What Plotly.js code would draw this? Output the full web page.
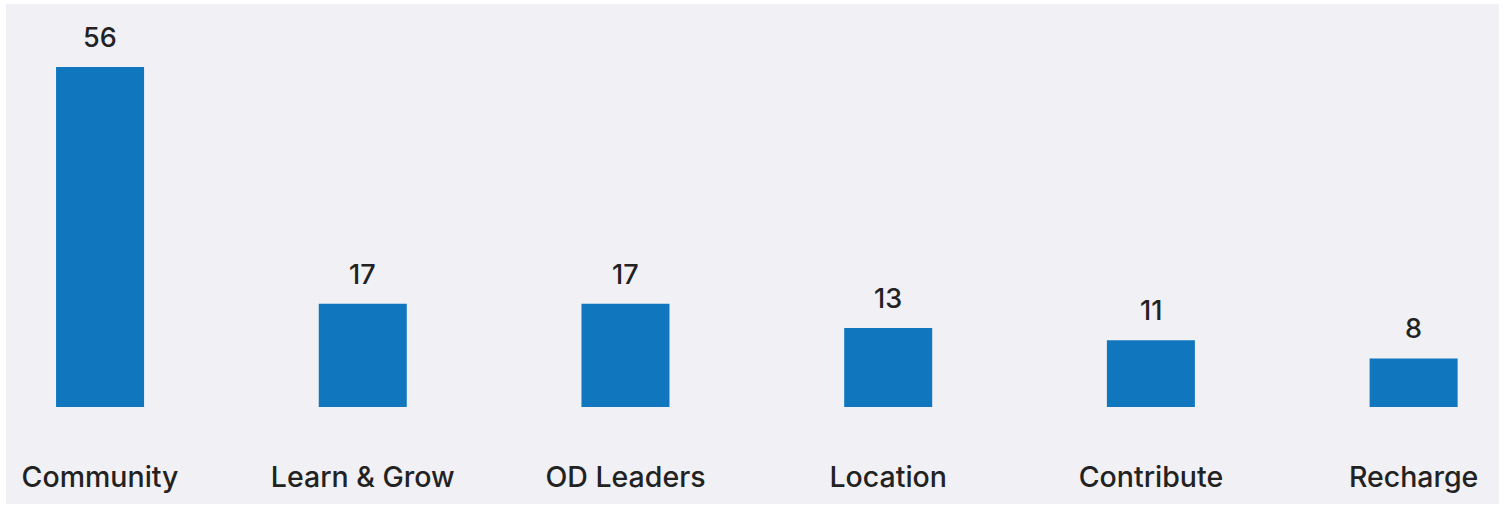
<!DOCTYPE html>
<html>
<head>
<meta charset="utf-8">
<script src="https://cdn.plot.ly/plotly-3.0.1.min.js"></script>
<style>
html,body{margin:0;padding:0;background:#ffffff;}
#chart{position:absolute;left:6px;top:4px;width:1493px;height:500px;}
</style>
</head>
<body>
<div id="chart"></div>
<script>
const categories = ["Community", "Learn & Grow", "OD Leaders", "Location", "Contribute", "Recharge"];
const counts = [56, 17, 17, 13, 11, 8];

const FONT = "Inter, 'Liberation Sans', Arial, sans-serif";
const trace = {
  type: "bar",
  x: categories,
  y: counts,
  marker: {color: "#1077be"},
  hoverinfo: "x+y"
};

const annotations = categories.map((c, i) => ({
  x: c, y: counts[i], xref: "x", yref: "y",
  text: String(counts[i]),
  showarrow: false, yanchor: "bottom", yshift: 11,
  font: {family: FONT, size: 27, weight: 500, color: "#222222"}
}));

const layout = {
  width: 1493, height: 500,
  margin: {l: 0, r: 0, t: 0, b: 97},
  paper_bgcolor: "#f0f0f5",
  plot_bgcolor: "#f0f0f5",
  bargap: 0.665,
  showlegend: false,
  xaxis: {
    type: "category",
    range: [-0.358, 5.325],
    showgrid: false, zeroline: false, showline: false, ticks: "",
    ticklabelstandoff: 50,
    tickfont: {family: FONT, size: 28.5, weight: 500, color: "#222222"}
  },
  yaxis: {
    range: [0, 66.4],
    showgrid: false, zeroline: false, showline: false,
    showticklabels: false, ticks: ""
  },
  annotations: annotations
};

Plotly.newPlot("chart", [trace], layout, {displayModeBar: false, staticPlot: true});
</script>
</body>
</html>
